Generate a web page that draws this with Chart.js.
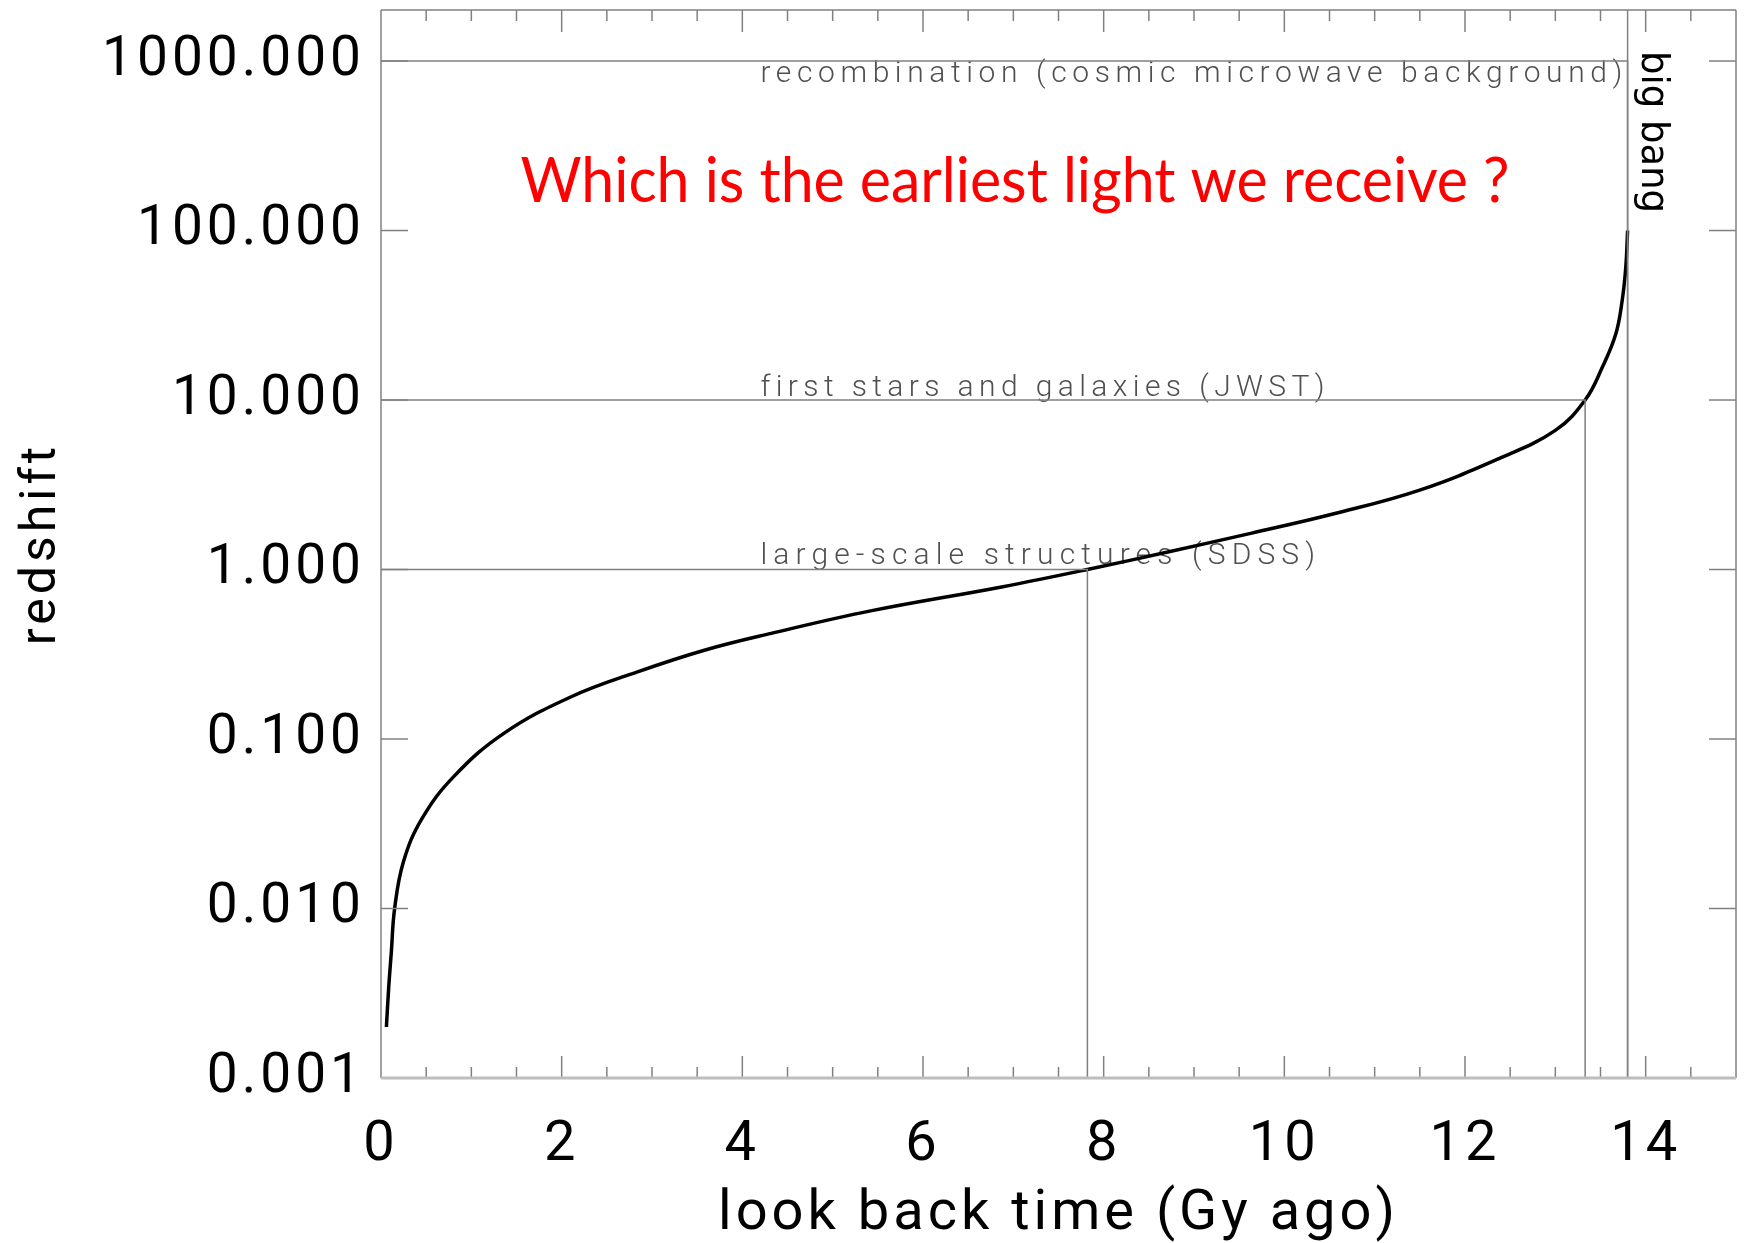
<!DOCTYPE html>
<html>
<head>
<meta charset="utf-8">
<title>Redshift vs look back time</title>
<script src="https://cdn.jsdelivr.net/npm/chart.js@4.4.1/dist/chart.umd.min.js"></script>
<style>
  html, body { margin: 0; padding: 0; background: #fff; }
</style>
</head>
<body>
<canvas id="zChart" width="1750" height="1243"></canvas>
<script>
// curve: look back time (Gy ago) -> redshift
const lookback = [0.06, 0.085, 0.114, 0.151, 0.25, 0.455, 0.805, 1.36, 2.10, 2.84, 3.58, 4.32, 5.42, 6.87, 7.82, 8.71, 9.64, 10.56, 11.49, 12.37, 13.0, 13.33, 13.52, 13.67, 13.74, 13.78, 13.80];
const redshift = [0.002, 0.0034, 0.0055, 0.010, 0.019, 0.034, 0.060, 0.108, 0.177, 0.249, 0.334, 0.42, 0.57, 0.789, 1.0, 1.27, 1.64, 2.14, 2.93, 4.5, 6.62, 10, 15.6, 24.6, 38.7, 60.8, 100];

const xTickVals = [0, 2, 4, 6, 8, 10, 12, 14];
const yTickVals = [0.001, 0.01, 0.1, 1, 10, 100, 1000];

// marked epochs: name, redshift, look back time
const epochNames = ['recombination (cosmic microwave background)', 'first stars and galaxies (JWST)', 'large-scale structures (SDSS)'];
const epochZ = [1000, 10, 1];
const epochT = [13.8, 13.33, 7.82];
const bigBangT = 13.8;
const bigBangLabel = 'big bang';

const question = 'Which is the earliest light we receive ?';
const xTitle = 'look back time (Gy ago)';
const yTitle = 'redshift';

const xMin = 0, xMax = 15, yMin = 0.001, yMax = 2000;

const refColor = '#808080';
const axisFont = 'Roboto';

const datasets = [];
epochNames.forEach((name, i) => {
    datasets.push({
        label: name,
        data: [{x: xMin, y: epochZ[i]}, {x: epochT[i], y: epochZ[i]}, {x: epochT[i], y: yMin}],
        borderColor: refColor,
        borderWidth: 1.5,
        pointRadius: 0,
        tension: 0
    });
});
datasets.push({
    label: bigBangLabel,
    data: [{x: bigBangT, y: yMin}, {x: bigBangT, y: yMax}],
    borderColor: refColor,
    borderWidth: 1.5,
    pointRadius: 0
});
datasets.push({
    label: yTitle,
    data: lookback.map((t, i) => ({x: t, y: redshift[i]})),
    borderColor: '#000',
    borderWidth: 3.5,
    pointRadius: 0,
    tension: 0.4
});

function line(ctx, x1, y1, x2, y2) {
    ctx.beginPath();
    ctx.moveTo(x1, y1);
    ctx.lineTo(x2, y2);
    ctx.stroke();
}

// spaced-out lettering for the axes (like the IDL plot)
const spacing = {
    id: 'spacing',
    beforeDraw(chart) { chart.ctx.letterSpacing = '4px'; },
    beforeDatasetsDraw(chart) { chart.ctx.letterSpacing = '0px'; }
};

const decor = {
    id: 'decor',
    beforeDatasetsDraw(chart) {
        const {ctx, chartArea: a, scales: {x, y}} = chart;
        ctx.save();

        // epoch labels, stretched between a start and an end time
        ctx.font = '300 30px ' + axisFont;
        ctx.fillStyle = '#505050';
        ctx.textAlign = 'left';
        ctx.textBaseline = 'alphabetic';
        const shift = [21, -4, -6];
        const endT = [13.74, 10.44, 10.34];
        const x0 = x.getPixelForValue(4.2);
        epochNames.forEach((name, i) => {
            ctx.letterSpacing = '0px';
            const natural = ctx.measureText(name).width;
            const sp = (x.getPixelForValue(endT[i]) - x0 - natural) / (name.length - 1);
            ctx.letterSpacing = sp.toFixed(2) + 'px';
            ctx.fillText(name, x0, y.getPixelForValue(epochZ[i]) + shift[i]);
        });
        ctx.letterSpacing = '0px';

        // big bang, written downwards
        ctx.save();
        ctx.translate(x.getPixelForValue(bigBangT) + 14, a.top + 41);
        ctx.rotate(Math.PI / 2);
        ctx.font = '37px "DejaVu Sans"';
        ctx.fillStyle = '#000';
        ctx.fillText(bigBangLabel, 0, 0);
        ctx.restore();

        // the question
        ctx.save();
        ctx.font = '62px Lato';
        ctx.fillStyle = '#ff0000';
        const w = ctx.measureText(question).width;
        ctx.translate(a.left + 634, a.top + 192);
        ctx.scale(989 / w, 1);
        ctx.textAlign = 'center';
        ctx.fillText(question, 0, 0);
        ctx.restore();

        ctx.restore();
    },
    afterDraw(chart) {
        const {ctx, chartArea: a, scales: {x, y}} = chart;
        ctx.save();
        ctx.strokeStyle = refColor;
        ctx.lineWidth = 1.5;
        // frame
        line(ctx, a.left, a.top, a.right, a.top);
        line(ctx, a.left, a.top, a.left, a.bottom);
        line(ctx, a.right, a.top, a.right, a.bottom);
        // ticks inside the frame
        for (let v = xMin + 0.5; v < xMax; v += 0.5) {
            const px = x.getPixelForValue(v);
            const len = v % 2 === 0 ? 22 : 11;
            line(ctx, px, a.top, px, a.top + len);
            line(ctx, px, a.bottom, px, a.bottom - len);
        }
        yTickVals.forEach(v => {
            const py = y.getPixelForValue(v);
            line(ctx, a.left, py, a.left + 27, py);
            line(ctx, a.right, py, a.right - 27, py);
        });
        ctx.strokeStyle = '#bdbdbd';
        ctx.lineWidth = 3;
        line(ctx, a.left, a.bottom, a.right, a.bottom);
        ctx.restore();
    }
};

new Chart(document.getElementById('zChart'), {
    type: 'line',
    data: { datasets: datasets },
    options: {
        responsive: false,
        animation: false,
        events: [],
        layout: { padding: { left: 0, right: 14, top: 10, bottom: 0 } },
        plugins: {
            legend: { display: false },
            tooltip: { enabled: false }
        },
        scales: {
            x: {
                type: 'linear',
                min: xMin,
                max: xMax,
                afterBuildTicks: s => { s.ticks = xTickVals.map(v => ({value: v})); },
                afterFit: s => { s.height = 165; s.paddingLeft = 0; s.paddingRight = 0; },
                grid: { display: false, drawTicks: false },
                border: { display: false },
                ticks: {
                    font: { family: axisFont, size: 56 },
                    color: '#000',
                    padding: 34,
                    maxRotation: 0,
                    autoSkip: false
                },
                title: {
                    display: true,
                    text: xTitle,
                    font: { family: axisFont, size: 56, lineHeight: 1 },
                    color: '#000',
                    padding: { top: 0, bottom: 0 }
                }
            },
            y: {
                type: 'logarithmic',
                min: yMin,
                max: yMax,
                afterBuildTicks: s => { s.ticks = yTickVals.map(v => ({value: v})); },
                afterFit: s => { s.width = 381; s.paddingTop = 0; s.paddingBottom = 0; },
                grid: { display: false, drawTicks: false },
                border: { display: false },
                ticks: {
                    callback: v => Number(v).toFixed(3),
                    font: { family: axisFont, size: 55 },
                    color: '#000',
                    padding: 16,
                    autoSkip: false
                },
                title: {
                    display: true,
                    text: yTitle,
                    font: { family: axisFont, size: 50 },
                    color: '#000',
                    padding: { top: 12, bottom: 0 }
                }
            }
        }
    },
    plugins: [spacing, decor]
});
</script>
</body>
</html>
